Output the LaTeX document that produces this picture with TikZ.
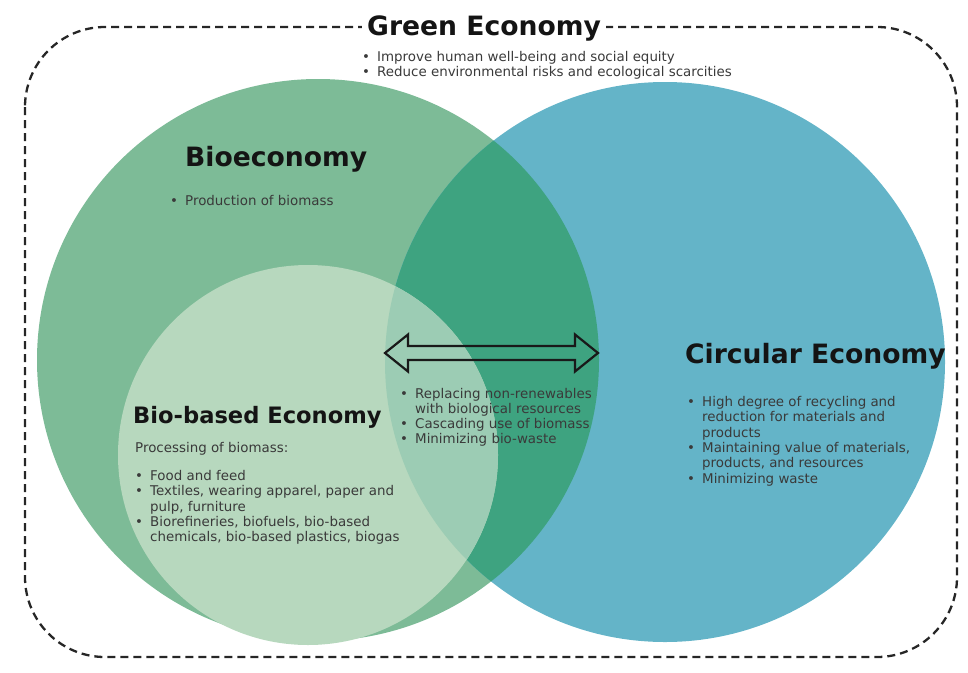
\documentclass[tikz,border=0pt]{standalone}
\usepackage{fontspec}
\setmainfont{DejaVu Sans}
\definecolor{bioverde}{HTML}{7DBB97}
\definecolor{circblu}{HTML}{64B4C8}
\definecolor{sovrapp}{HTML}{3EA380}
\definecolor{basedchiaro}{HTML}{B7D8BE}
\definecolor{basedblu}{HTML}{9CCCB4}
\definecolor{testo}{HTML}{3A3A3A}
\newcommand{\bul}{\makebox[15pt][l]{•}}
\newcommand{\ind}{\hspace*{15pt}}
\tikzset{
  titolo/.style={anchor=base west, inner sep=0pt, text=black!92,
    font=\fontsize{26.6}{30}\selectfont\bfseries},
  elenco/.style={anchor=base west, inner sep=0pt, text=testo,
    font=\fontsize{13.4}{15.3}\selectfont},
  bordo/.style={draw=black!85, line width=2.3pt, dash pattern=on 8pt off 5pt,
    rounded corners=80pt},
}
\begin{document}
\begin{tikzpicture}[x=1pt,y=-1pt]
  \useasboundingbox (0,0) rectangle (968,672);
  % cerchi
  \coordinate (cBio) at (318,360);
  \coordinate (cCirc) at (665,362);
  \coordinate (cBased) at (308,455);
  \fill[bioverde] (cBio) circle (281);
  \fill[circblu] (cCirc) circle (280);
  \begin{scope}
    \clip (cBio) circle (281);
    \fill[sovrapp] (cCirc) circle (280);
  \end{scope}
  \fill[basedchiaro] (cBased) circle (190);
  \begin{scope}
    \clip (cBased) circle (190);
    \fill[basedblu] (cCirc) circle (280);
  \end{scope}
  % cornice tratteggiata
  \draw[bordo] (25,27) rectangle (957,657);
  \node[titolo, fill=white, inner xsep=5pt, inner ysep=2pt] (green) at (362,35) {Green Economy};
  \node[elenco] (greenList) at (362,61.5) {\begin{tabular}[t]{@{}l@{}}
    \bul Improve human well-being and social equity\\
    \bul Reduce environmental risks and ecological scarcities
  \end{tabular}};
  % bioeconomia
  \node[titolo] (bio) at (185,166.5) {Bioeconomy};
  \node[elenco] (bioList) at (170,205) {\bul Production of biomass};
  \node[titolo, font=\fontsize{22.6}{27}\selectfont\bfseries] (based) at (133,423) {Bio-based Economy};
  \node[elenco] (basedList) at (135,452.5) {\begin{tabular}[t]{@{}l@{}}
    Processing of biomass:\\[12.7pt]
    \bul Food and feed\\
    \bul Textiles, wearing apparel, paper and\\
    \ind pulp, furniture\\
    \bul Biorefineries, biofuels, bio-based\\
    \ind chemicals, bio-based plastics, biogas
  \end{tabular}};
  % freccia doppia
  \coordinate (a1) at (385,353);  \coordinate (a2) at (408,334.5);
  \coordinate (a3) at (408,346);  \coordinate (a4) at (575,346);
  \coordinate (a5) at (575,334.5);\coordinate (a6) at (598,353);
  \coordinate (a7) at (575,371.5);\coordinate (a8) at (575,360);
  \coordinate (a9) at (408,360);  \coordinate (a10) at (408,371.5);
  \draw[black!90, line width=2.2pt, line join=miter]
    (a1)--(a2)--(a3)--(a4)--(a5)--(a6)--(a7)--(a8)--(a9)--(a10)--cycle;
  \node[elenco] (midList) at (400,398) {\begin{tabular}[t]{@{}l@{}}
    \bul Replacing non-renewables\\
    \ind with biological resources\\
    \bul Cascading use of biomass\\
    \bul Minimizing bio-waste
  \end{tabular}};
  % economia circolare
  \node[titolo] (circ) at (685,363) {Circular Economy};
  \node[elenco] (circList) at (687,406.5) {\begin{tabular}[t]{@{}l@{}}
    \bul High degree of recycling and\\
    \ind reduction for materials and\\
    \ind products\\
    \bul Maintaining value of materials,\\
    \ind products, and resources\\
    \bul Minimizing waste
  \end{tabular}};
\end{tikzpicture}
\end{document}
